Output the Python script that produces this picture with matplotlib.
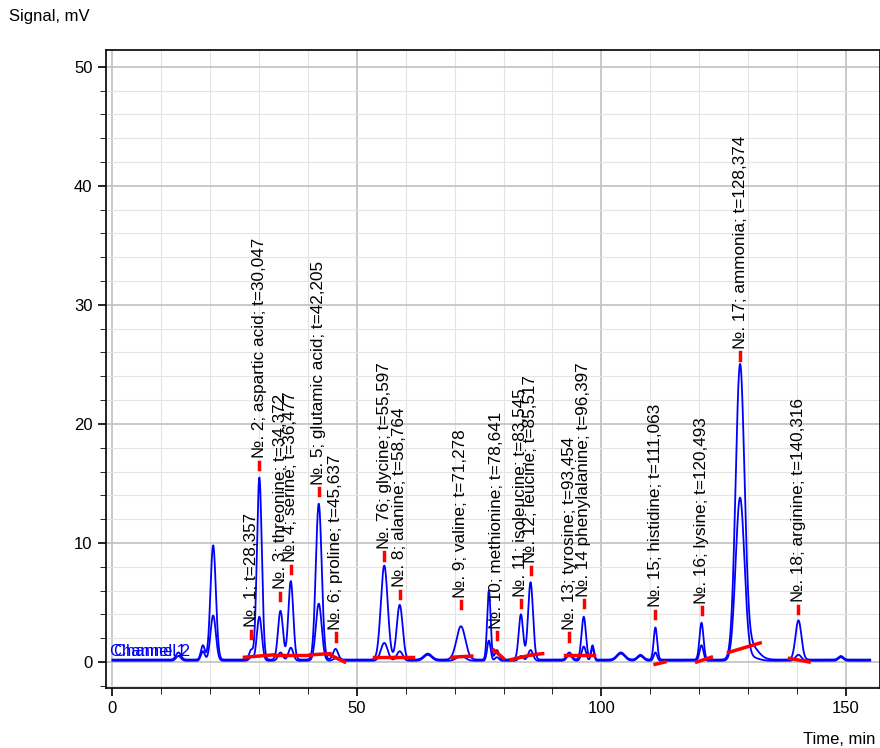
import matplotlib
matplotlib.use("Agg")
import matplotlib.pyplot as plt
import numpy as np
from matplotlib.ticker import MultipleLocator

plt.rcParams["font.family"] = ["Liberation Sans", "DejaVu Sans"]

# peak table: retention time, height trace A, height trace B, width (sigma, min)
peak_t = [13.5, 18.5, 20.6, 28.36, 30.05, 34.37, 36.48, 42.2, 45.64, 55.6, 58.76,
          64.5, 71.28, 77.0, 78.64, 83.55, 85.52, 93.45, 96.4, 98.2, 104.0, 108.0,
          111.06, 120.49, 128.37, 130.5, 140.32, 149.0]
peak_a = [0.6, 1.2, 9.6, 0.8, 15.3, 4.1, 6.6, 13.1, 0.9, 7.9, 4.6,
          0.5, 2.8, 5.8, 0.8, 3.8, 6.5, 0.6, 3.6, 1.2, 0.6, 0.4,
          2.7, 3.1, 24.4, 1.2, 3.3, 0.3]
peak_b = [0.4, 0.8, 3.8, 0.3, 3.7, 0.7, 1.1, 4.8, 0.2, 1.5, 0.8,
          0.5, 0.4, 1.7, 0.3, 0.4, 0.9, 0.5, 1.2, 1.1, 0.6, 0.4,
          0.7, 1.3, 13.6, 0.3, 0.5, 0.3]
peak_w = [0.5, 0.4, 0.55, 0.4, 0.5, 0.5, 0.5, 0.6, 0.5, 0.7, 0.6,
          0.8, 0.9, 0.35, 0.4, 0.45, 0.5, 0.5, 0.45, 0.3, 0.8, 0.6,
          0.35, 0.4, 0.9, 1.5, 0.6, 0.5]

# labels: time, marker level, text
lab_t = [28.357, 30.047, 34.372, 36.477, 42.205, 45.637, 55.597, 58.764, 71.278,
         78.641, 83.545, 85.517, 93.454, 96.397, 111.063, 120.493, 128.374, 140.316]
lab_y = [2.3, 16.5, 5.5, 7.8, 14.3, 2.1, 8.9, 5.7, 4.8, 2.2, 4.9, 7.7, 2.1, 4.9,
         4.0, 4.3, 25.7, 4.4]
lab_txt = ["№. 1; t=28,357", "№. 2; aspartic acid; t=30,047", "№. 3; threonine; t=34,372",
           "№. 4; serine; t=36,477", "№. 5; glutamic acid; t=42,205", "№. 6; proline; t=45,637",
           "№. 76; glycine; t=55,597", "№. 8; alanine; t=58,764", "№. 9; valine; t=71,278",
           "№. 10; methionine; t=78,641", "№. 11; isoleucine; t=83,545", "№. 12; leucine; t=85,517",
           "№. 13; tyrosine; t=93,454", "№. 14 phenylalanine; t=96,397", "№. 15; histidine; t=111,063",
           "№. 16; lysine; t=120,493", "№. 17; ammonia; t=128,374", "№. 18; arginine; t=140,316"]

# integration baselines: t0, t1, y0, y1
base_t0 = [27.0, 33.0, 40.5, 44.5, 53.5, 57.8, 69.5, 78.0, 81.5, 85.8, 92.5, 111.0, 119.5, 126.0, 138.5]
base_t1 = [33.0, 40.5, 44.5, 47.5, 57.8, 61.5, 73.5, 80.0, 85.8, 88.0, 98.5, 113.0, 122.5, 132.5, 142.5]
base_y0 = [0.4, 0.6, 0.6, 0.6, 0.4, 0.4, 0.4, 1.0, 0.2, 0.6, 0.6, -0.2, 0.0, 0.8, 0.3]
base_y1 = [0.6, 0.6, 0.7, 0.0, 0.4, 0.4, 0.5, 0.3, 0.6, 0.7, 0.6, 0.0, 0.4, 1.6, 0.0]

t = np.linspace(0, 155, 4000)
sig_a = np.full_like(t, 0.2)
sig_b = np.full_like(t, 0.1)
for pt, ha, hb, w in zip(peak_t, peak_a, peak_b, peak_w):
    sig_a += ha * np.exp(-0.5 * ((t - pt) / w) ** 2)
    sig_b += hb * np.exp(-0.5 * ((t - pt) / w) ** 2)

fig = plt.figure(figsize=(8.8, 7.48), dpi=100)
ax = fig.add_axes([0.12, 0.08, 0.88, 0.853])
ax.set_xlim(-1.4, 157)
ax.set_ylim(-2.2, 51.4)
ax.xaxis.set_major_locator(MultipleLocator(50))
ax.xaxis.set_minor_locator(MultipleLocator(10))
ax.yaxis.set_major_locator(MultipleLocator(10))
ax.yaxis.set_minor_locator(MultipleLocator(2))
ax.grid(which="major", color="#c0c0c0", lw=1.2)
ax.grid(which="minor", color="#e4e4e4", lw=0.8)
ax.set_axisbelow(True)
ax.tick_params(which="both", direction="out", labelsize=12)
ax.tick_params(which="major", length=6, width=1.2)
ax.tick_params(which="minor", length=4)
for s in ax.spines.values():
    s.set_linewidth(1.2)

ax.plot(t, sig_a, color="#0000ff", lw=1.3)
ax.plot(t, sig_b, color="#0000ff", lw=1.3)

for t0, t1, y0, y1 in zip(base_t0, base_t1, base_y0, base_y1):
    ax.plot([t0, t1], [y0, y1], color="#ff0000", lw=2.5)

for lt, ly, txt in zip(lab_t, lab_y, lab_txt):
    ax.plot([lt, lt], [ly - 0.3, ly + 0.3], color="#ff0000", lw=2.5)
    ax.text(lt, ly + 0.6, txt, rotation=90, ha="center", va="bottom", fontsize=12.3)

ax.text(-0.5, 0.5, "Channel 1", color="#0000ff", fontsize=12)
ax.text(0.3, 0.5, "Channel 2", color="#0000ff", fontsize=12)

fig.text(0.01, 0.972, "Signal, mV", fontsize=12)
fig.text(0.995, 0.005, "Time, min", fontsize=12, ha="right")

fig.savefig("out.png")
